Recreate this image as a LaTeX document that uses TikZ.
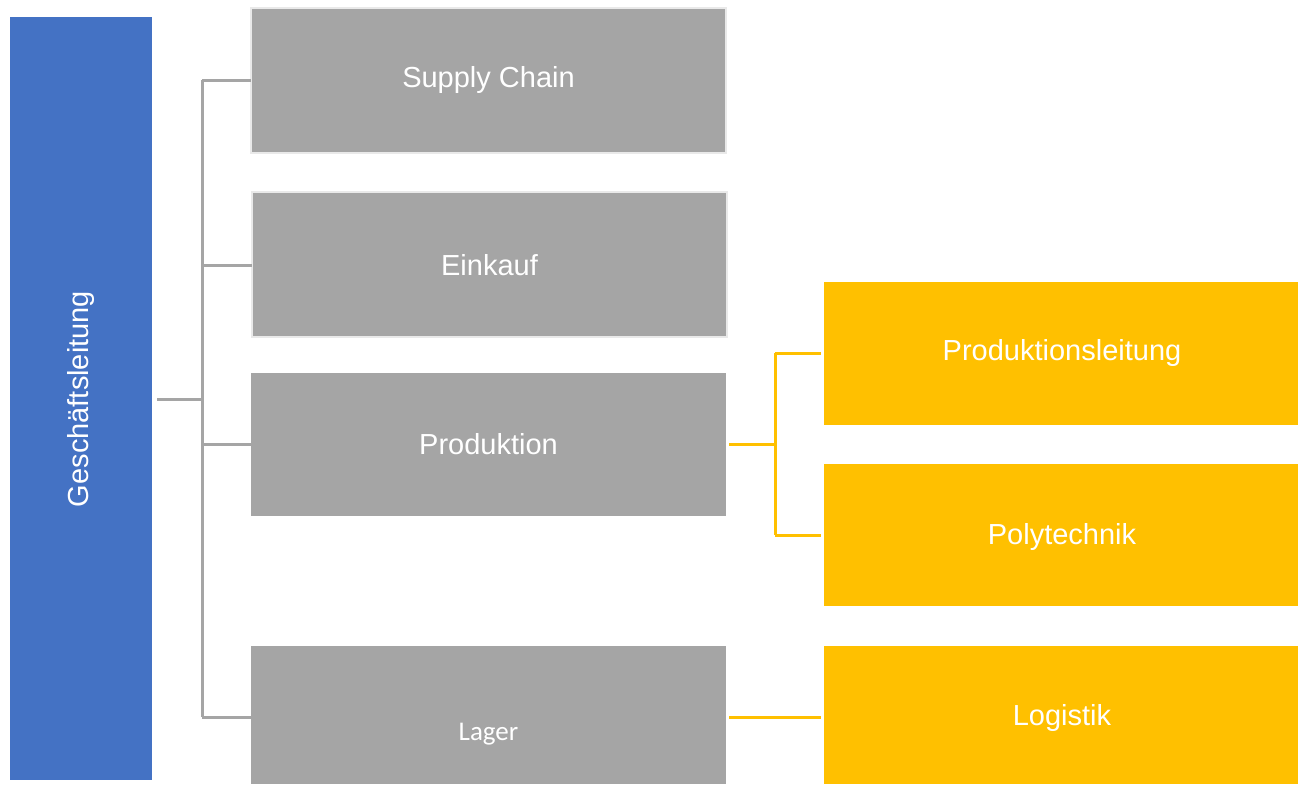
\documentclass[tikz,border=0pt]{standalone}
\usepackage{fontspec}
\setmainfont{Liberation Sans}
\newfontfamily\calibrilike{Carlito}
\definecolor{headblue}{HTML}{4472C4}
\definecolor{unitgray}{HTML}{A5A5A5}
\definecolor{subyellow}{HTML}{FFC000}
\definecolor{rimgray}{HTML}{E9E9E9}
\begin{document}
\begin{tikzpicture}[x=1pt,y=-1pt,
  box/.style={inner sep=0pt,outer sep=0pt,text=white,font=\fontsize{29}{34}\selectfont},
  unit/.style={box,fill=unitgray,minimum width=475pt},
  rimmed/.style={unit,draw=rimgray,line width=2pt},
  sub/.style={box,fill=subyellow,minimum width=474pt},
  caption/.style={inner sep=0pt,text=white,font=\fontsize{29}{34}\selectfont},
  grayline/.style={draw=unitgray,line width=3pt},
  yellowline/.style={draw=subyellow,line width=3pt}]
\useasboundingbox (0,0) rectangle (1303,785);
% head of the organisation
\node[box,fill=headblue,minimum width=142pt,minimum height=763pt] (head) at (81,398.5) {};
\node[box,rotate=90] (headlabel) at (81,399) {Geschäftsleitung};
% departments
\node[rimmed,minimum height=145pt] (supply) at (488.5,80.5) {};
\node[caption] (supplylabel) at (488.5,80) {Supply Chain};
\node[rimmed,minimum height=145pt] (einkauf) at (489.5,264.5) {};
\node[caption] (einkauflabel) at (489.5,265) {Einkauf};
\node[unit,minimum height=143pt] (prod) at (488.5,444.5) {};
\node[caption] (prodlabel) at (488.5,444) {Produktion};
\node[unit,minimum height=138pt] (lager) at (488.5,715) {};
\node[font=\calibrilike\fontsize{27}{32}\selectfont,text=white,inner sep=0pt] (lagerlabel) at (488.5,734) {Lager};
% sub-units
\node[sub,minimum height=143pt] (pl) at (1061,353.5) {};
\node[caption] (pllabel) at (1062,353) {Produktionsleitung};
\node[sub,minimum height=142pt] (poly) at (1061,535) {};
\node[caption] (polylabel) at (1062,537) {Polytechnik};
\node[sub,minimum height=138pt] (log) at (1061,715) {};
\node[caption] (loglabel) at (1062,718) {Logistik};
% gray tree
\coordinate (hub) at (202,399);
\coordinate (busTop) at (202,80);
\coordinate (busBot) at (202,717);
\draw[grayline] ([xshift=5pt]head.east |- hub) -- (hub);
\draw[grayline] (busTop) -- (busBot);
\draw[grayline] (busTop) -- (supply.west |- busTop);
\draw[grayline] (202,265) -- (einkauf.west |- 0,265);
\draw[grayline] (202,444) -- (prod.west |- 0,444);
\draw[grayline] (busBot) -- (lager.west |- busBot);
% yellow tree
\coordinate (yhub) at (775,444);
\draw[yellowline] ([xshift=3pt]prod.east |- yhub) -- (yhub);
\draw[yellowline] (775,353) -- (775,535);
\draw[yellowline] (775,353) -- ([xshift=-3pt]pl.west |- 0,353);
\draw[yellowline] (775,535) -- ([xshift=-3pt]poly.west |- 0,535);
\draw[yellowline] ([xshift=3pt]lager.east |- 0,717) -- ([xshift=-3pt]log.west |- 0,717);
\end{tikzpicture}
\end{document}
